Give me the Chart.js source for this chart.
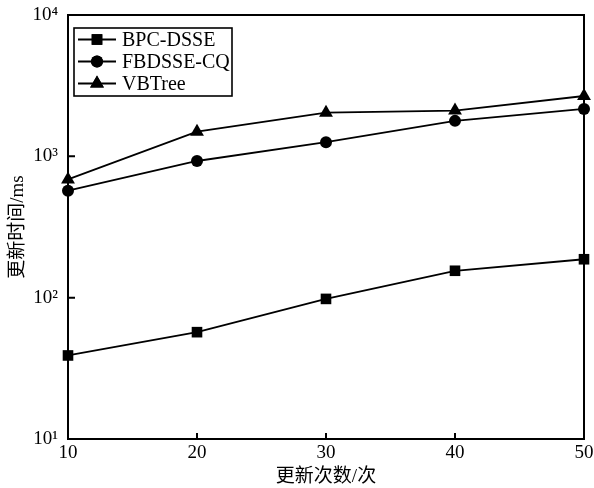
<!DOCTYPE html>
<html>
<head>
<meta charset="utf-8">
<script src="https://cdn.jsdelivr.net/npm/chart.js@4/dist/chart.umd.min.js"></script>
<style>
  html, body { margin: 0; padding: 0; background: #fff; }
  #wrap { width: 594px; height: 488px; }
</style>
</head>
<body>
<div id="wrap"><canvas id="c" width="594" height="488"></canvas></div>
<script>
// ---- data ----
const updateCounts = [10, 20, 30, 40, 50];
const seriesNames = ['BPC-DSSE', 'FBDSSE-CQ', 'VBTree'];
const bpcDsse = [39, 57, 98, 155, 187];
const fbdsseCq = [571, 927, 1259, 1782, 2163];
const vbTree = [687, 1494, 2037, 2109, 2673];
const xTickValues = [10, 20, 30, 40, 50];
const yTickValues = [10, 100, 1000, 10000];
const yTickLabels = ['10\u00B9', '10\u00B2', '10\u00B3', '10\u2074'];
const xTitle = '更新次数/次';
const yTitle = '更新时间/ms';

const FONT = "'Liberation Serif', 'Noto Sans CJK SC', serif";

function pts(vals) { return updateCounts.map((x, i) => ({ x: x, y: vals[i] })); }

const markerStyles = ['rect', 'circle', 'triangle'];
const markerRadius = [7.5, 6, 8];

const datasets = [bpcDsse, fbdsseCq, vbTree].map((vals, i) => ({
  label: seriesNames[i],
  data: pts(vals),
  borderColor: '#000',
  backgroundColor: '#000',
  borderWidth: 1.8,
  pointStyle: markerStyles[i],
  pointRadius: markerRadius[i],
  pointBorderWidth: 0,
  pointBackgroundColor: '#000',
  tension: 0,
  clip: false
}));

const framePlugin = {
  id: 'frame',
  afterDraw(chart) {
    const ctx = chart.ctx;
    const a = chart.chartArea;
    const xs = chart.scales.x, ys = chart.scales.y;
    ctx.save();
    ctx.strokeStyle = '#000';
    ctx.lineWidth = 2;
    // inward ticks
    ctx.beginPath();
    xTickValues.forEach(v => {
      const px = xs.getPixelForValue(v);
      if (px > a.left + 2 && px < a.right - 2) {
        ctx.moveTo(px, a.bottom);
        ctx.lineTo(px, a.bottom - 6);
      }
    });
    yTickValues.forEach(v => {
      const py = ys.getPixelForValue(v);
      if (py > a.top + 2 && py < a.bottom - 2) {
        ctx.moveTo(a.left, py);
        ctx.lineTo(a.left + 7, py);
      }
    });
    ctx.stroke();
    ctx.strokeRect(a.left, a.top, a.right - a.left, a.bottom - a.top);

    // legend
    const lx = 74, ly = 28, lw = 158, lh = 68;
    ctx.lineWidth = 1.6;
    ctx.strokeRect(lx, ly, lw, lh);
    const rows = [39.5, 61.5, 83.5];
    chart.data.datasets.forEach((ds, i) => {
      const y = rows[i];
      ctx.lineWidth = 1.8;
      ctx.beginPath();
      ctx.moveTo(78, y);
      ctx.lineTo(116, y);
      ctx.stroke();
      ctx.fillStyle = '#000';
      Chart.helpers.drawPoint(ctx, { pointStyle: ds.pointStyle, radius: ds.pointRadius, borderWidth: 0 }, 97, y);
      ctx.fill();
      ctx.font = "20px " + FONT;
      ctx.textBaseline = 'middle';
      ctx.textAlign = 'left';
      ctx.fillText(ds.label, 122, y + 1);
    });
    ctx.restore();
  }
};

new Chart(document.getElementById('c'), {
  type: 'line',
  data: { datasets },
  options: {
    responsive: false,
    animation: false,
    layout: { padding: { top: 15, right: 10, left: 0, bottom: 0 } },
    plugins: { legend: { display: false }, tooltip: { enabled: false } },
    scales: {
      x: {
        type: 'linear',
        min: 10, max: 50,
        afterBuildTicks(scale) { scale.ticks = xTickValues.map(v => ({ value: v })); },
        afterFit(scale) { scale.height = 49; scale.paddingLeft = 0; scale.paddingRight = 0; },
        grid: { display: false, drawTicks: false },
        border: { display: false },
        ticks: { color: '#000', font: { family: FONT, size: 19 }, padding: 3, maxRotation: 0, autoSkip: false },
        title: { display: true, text: xTitle, color: '#000', font: { family: FONT, size: 19 }, padding: { top: 0, bottom: 0 } }
      },
      y: {
        type: 'logarithmic',
        min: 10, max: 10000,
        afterBuildTicks(scale) { scale.ticks = yTickValues.map(v => ({ value: v })); },
        afterFit(scale) { scale.width = 68; scale.paddingTop = 0; scale.paddingBottom = 0; },
        grid: { display: false, drawTicks: false },
        border: { display: false },
        ticks: {
          color: '#000', font: { family: FONT, size: 19 }, padding: 10, autoSkip: false,
          callback(v) { const i = yTickValues.indexOf(v); return i >= 0 ? yTickLabels[i] : ''; }
        },
        title: { display: true, text: yTitle, color: '#000', font: { family: FONT, size: 19 }, padding: { top: 7, bottom: 0 } }
      }
    }
  },
  plugins: [framePlugin]
});
</script>
</body>
</html>
